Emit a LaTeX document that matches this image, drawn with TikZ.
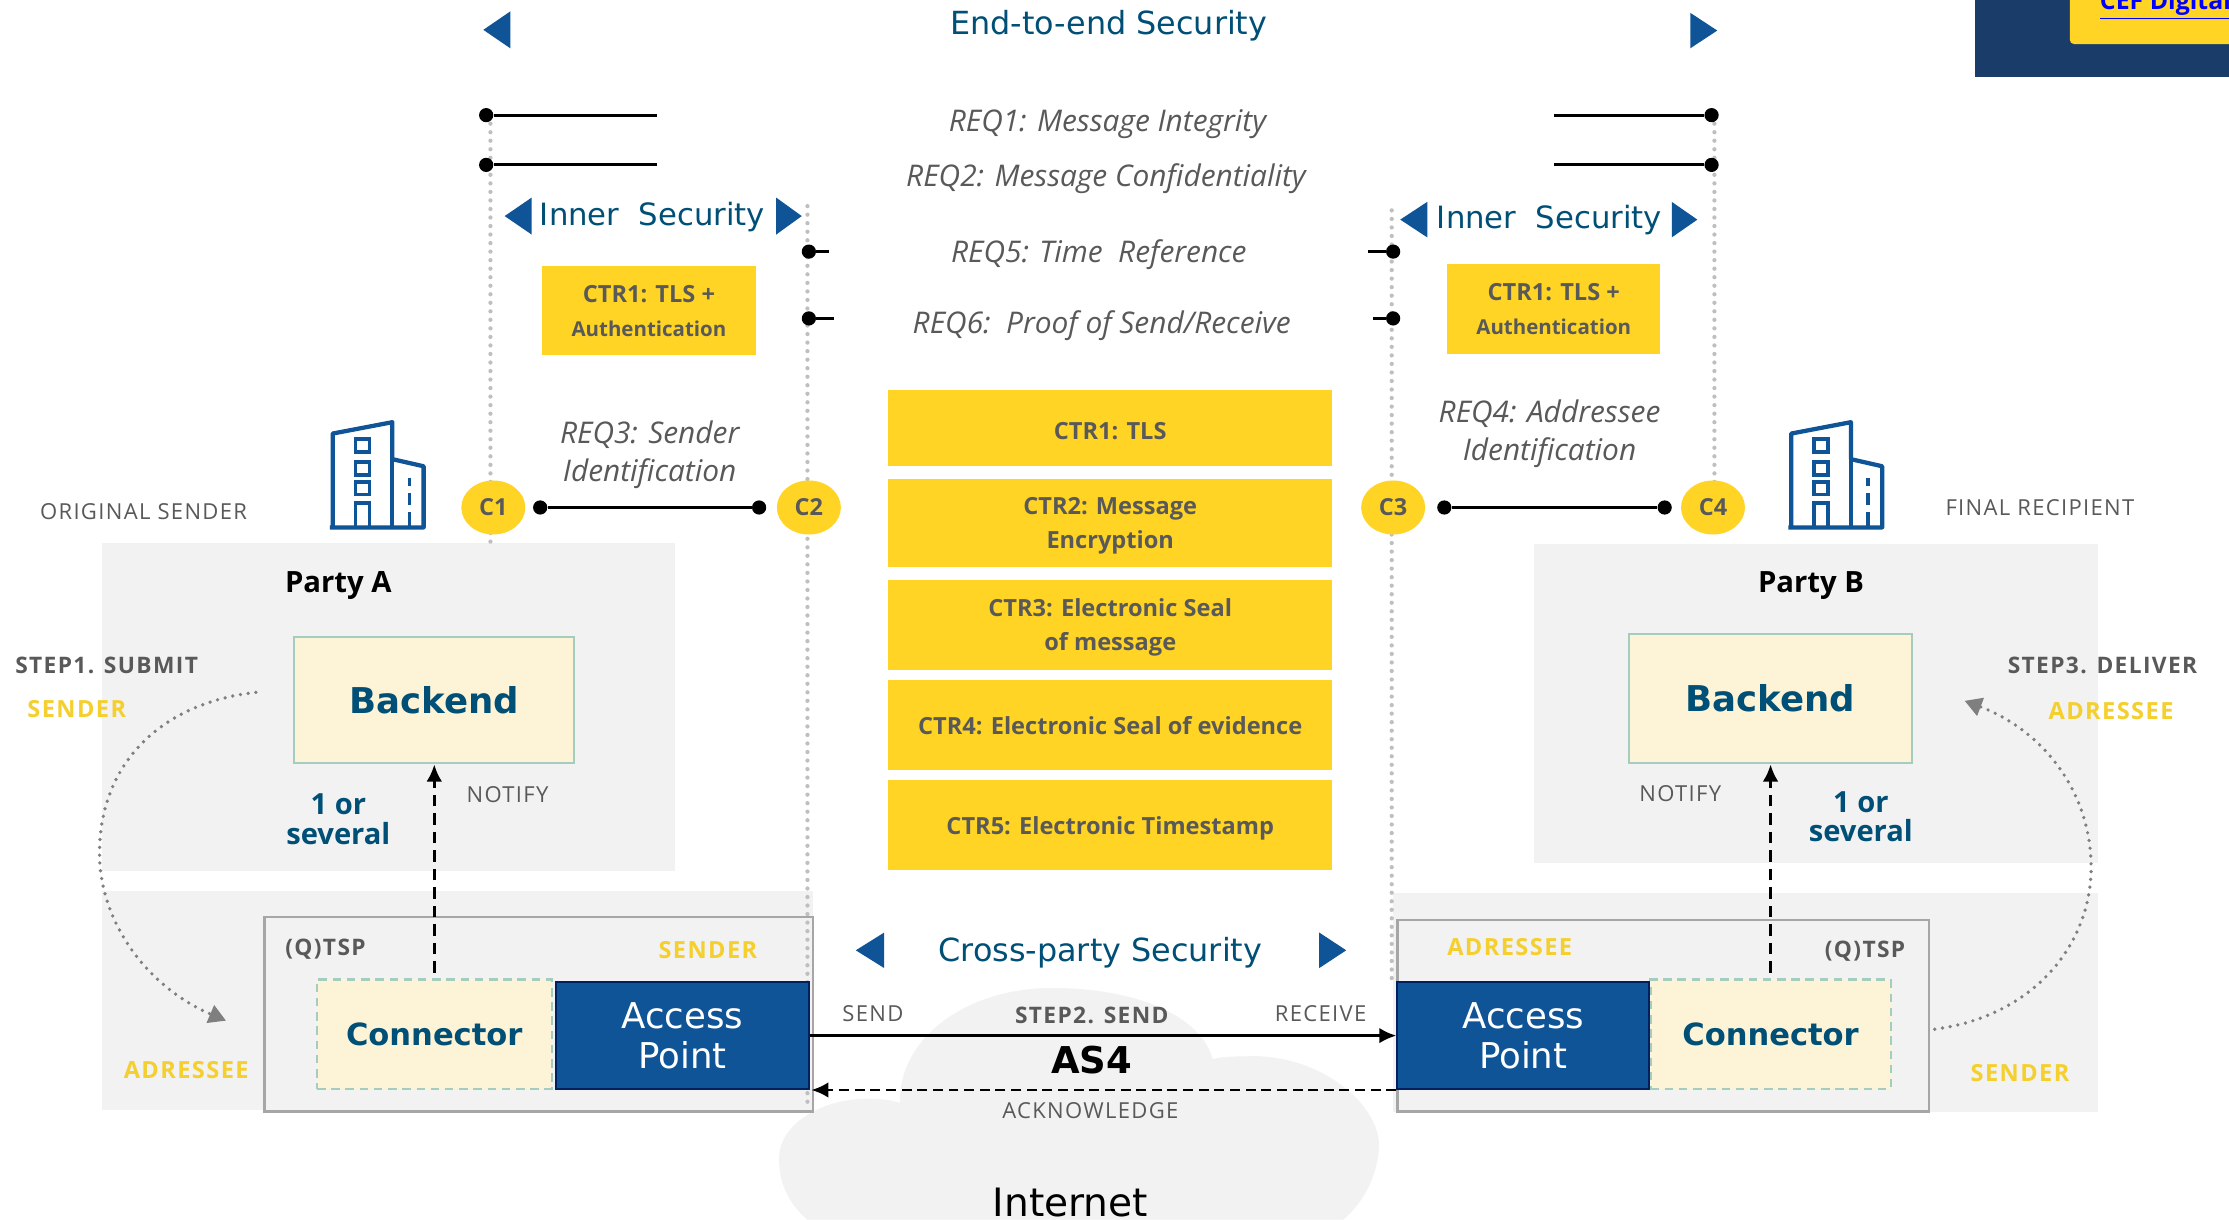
\documentclass[tikz,border=0pt]{standalone}
\usepackage{fontspec}
\setmainfont{Open Sans}
\newfontfamily\verdfont{DejaVu Sans}
\newfontfamily\spacedfont[LetterSpace=6]{Open Sans}
\usetikzlibrary{arrows.meta,shapes.geometric}
\definecolor{panelgray}{HTML}{F2F2F2}
\definecolor{framegray}{HTML}{A6A6A6}
\definecolor{dotgray}{HTML}{BFBFBF}
\definecolor{curvegray}{HTML}{7F7F7F}
\definecolor{textgray}{HTML}{595959}
\definecolor{seayellow}{HTML}{FFD424}
\definecolor{lblyellow}{HTML}{F4CF2E}
\definecolor{deepteal}{HTML}{004F76}
\definecolor{apblue}{HTML}{0F5496}
\definecolor{apedge}{HTML}{002060}
\definecolor{cream}{HTML}{FDF3D6}
\definecolor{mintedge}{HTML}{A5CDBF}
\definecolor{navy}{HTML}{1A3C68}
\newcommand{\smallauth}{\fontsize{14.4}{24}\selectfont Authentication}
\tikzset{
	panel/.style={fill=panelgray, draw=none, inner sep=0},
	ctrbox/.style={fill=seayellow, inner sep=0, align=center, text=textgray, text depth=0pt, font=\fontsize{16.6}{24}\selectfont\bfseries},
	cream box/.style={fill=cream, draw=mintedge, line width=1.5, inner sep=0, text=deepteal, align=center},
	apbox/.style={fill=apblue, draw=apedge, line width=1.5, inner sep=0, text=white, align=center, text depth=0pt, font=\verdfont\fontsize{25}{28}\selectfont},
	cnode/.style={ellipse, fill=seayellow, minimum width=45, minimum height=38, inner sep=0, text=textgray, font=\fontsize{16.5}{17}\selectfont\bfseries},
	pin/.style={circle, fill=black, minimum size=10, inner sep=0},
	req/.style={text=textgray, align=center, font=\fontsize{21}{26.5}\selectfont\itshape},
	graylbl/.style={text=textgray, font=\spacedfont\fontsize{15.5}{17}\selectfont},
	boldgray/.style={text=textgray, font=\spacedfont\fontsize{16}{17}\selectfont\bfseries},
	yellbl/.style={text=lblyellow, font=\spacedfont\fontsize{16.6}{17}\selectfont\bfseries},
	secttl/.style={text=deepteal, font=\verdfont\fontsize{22.4}{26}\selectfont},
	innerttl/.style={text=deepteal, font=\verdfont\fontsize{21.6}{26}\selectfont},
	countlbl/.style={text=deepteal, align=center, font=\fontsize{20.5}{21}\selectfont\bfseries},
	dotline/.style={dotgray, line width=3, line cap=round, dash pattern=on 0pt off 6pt},
	dotcurve/.style={curvegray, line width=2.6, line cap=round, dash pattern=on 0pt off 5.5pt},
	longdash/.style={dash pattern=on 8pt off 5pt},
	building/.pic={
		\draw[apblue, line width=3, line join=round] (0,75) -- (66,75) -- (66,32) -- (44,27) -- (44,1) -- (2,9) -- (2,75);
		\draw[apblue, line width=3] (44,27) -- (44,75);
		\foreach \yy in {13,29,43} {
			\draw[apblue, line width=2.5] (18,\yy) rectangle (28,\yy+9);
		}
		\draw[apblue, line width=2.5] (18,75) -- (18,58) -- (28,58) -- (28,75);
		\draw[apblue, line width=2.5] (56,40) -- (56,46) (56,51) -- (56,59) (56,64) -- (56,75);
	},
}
\begin{document}
\begin{tikzpicture}[x=1pt, y=-1pt]
	\useasboundingbox (0,0) rectangle (1568,858);
	\fill[white] (0,0) rectangle (1568,858);
	% cloud behind the middle
	\fill[panelgray] (568,858) .. controls (553,845) and (548,830) .. (548,815)
		.. controls (548,790) and (580,772) .. (612,773) .. controls (620,773) and (628,774) .. (633,776)
		.. controls (632,730) and (680,695) .. (740,695) .. controls (800,695) and (845,715) .. (853,745)
		.. controls (860,743) and (875,743) .. (885,743) .. controls (935,745) and (970,780) .. (970,805)
		.. controls (970,825) and (960,845) .. (945,858) -- cycle;
	% corner banner
	\fill[navy] (1389,0) rectangle (1568,54);
	\fill[seayellow, rounded corners=3] (1456,-10) rectangle (1580,31);
	\begin{scope}
		\clip (1456,0) rectangle (1568,31);
		\node[anchor=base west, inner sep=0, text=blue, font=\fontsize{17.5}{18}\selectfont\bfseries] (banner) at (1477,7) {\underline{CEF Digital}};
	\end{scope}
	% panels
	\node[panel, minimum width=403, minimum height=231] (partyA) at (273.5,497.5) {};
	\node[panel, minimum width=397, minimum height=224] (partyB) at (1277.5,495) {};
	\node[panel, minimum width=500, minimum height=154] (lowA) at (322,704) {};
	\node[panel, minimum width=496, minimum height=154] (lowB) at (1228,705) {};
	% dotted verticals
	\coordinate (vA1) at (345,81);
	\coordinate (vA2) at (345,382);
	\coordinate (vB1) at (568,145);
	\coordinate (vB2) at (568,780);
	\coordinate (vC1) at (979,148);
	\coordinate (vC2) at (979,690);
	\coordinate (vD1) at (1206,81);
	\coordinate (vD2) at (1206,350);
	\draw[dotline] (vA1) -- (vA2);
	\draw[dotline] (vB1) -- (vB2);
	\draw[dotline] (vC1) -- (vC2);
	\draw[dotline] (vD1) -- (vD2);
	% titles and triangles
	\foreach \xa/\xb/\ya/\yb in {359/340/8/34, 374/355/139/165, 1004/985/142/167, 622/602/656/681} {
		\fill[apblue] (\xa,\ya) -- (\xb,{(\ya+\yb)/2}) -- (\xa,\yb) -- cycle;
	}
	\foreach \xa/\xb/\ya/\yb in {1189/1208/9/34, 546/564/139/165, 1176/1194/142/167, 928/947/656/681} {
		\fill[apblue] (\xa,\ya) -- (\xb,{(\ya+\yb)/2}) -- (\xa,\yb) -- cycle;
	}
	\node[secttl] (endtoend) at (780,18) {End-to-end Security};
	\node[innerttl] (innerA) at (459,153) {Inner\ \ Security};
	\node[innerttl] (innerB) at (1090,155) {Inner\ \ Security};
	\node[secttl] (crossparty) at (774,670) {Cross-party Security};
	% requirements
	\node[req] (reqA) at (779,87) {REQ1: Message Integrity};
	\node[req] (reqB) at (778,126) {REQ2: Message Confidentiality};
	\node[req] (reqE) at (773,179) {REQ5: Time\ \ Reference};
	\node[req] (reqF) at (775,229) {REQ6:\ \ Proof of Send/Receive};
	\node[req] (reqC) at (457,320) {REQ3: Sender\\Identification};
	\node[req] (reqD) at (1090,305) {REQ4: Addressee\\Identification};
	% pins and their stubs
	\node[pin] (pinA) at (342,81) {};
	\node[pin] (pinB) at (342,116) {};
	\node[pin] (pinC) at (1204,81) {};
	\node[pin] (pinD) at (1204,116) {};
	\node[pin] (pinE) at (569,177) {};
	\node[pin] (pinF) at (569,224) {};
	\node[pin] (pinG) at (980,177) {};
	\node[pin] (pinH) at (980,224) {};
	\coordinate (stubA) at (462,81);
	\coordinate (stubB) at (462,116);
	\coordinate (stubC) at (1093,81);
	\coordinate (stubD) at (1093,116);
	\coordinate (stubE) at (583,177);
	\coordinate (stubF) at (587,224);
	\coordinate (stubG) at (962,177);
	\coordinate (stubH) at (966,224);
	\foreach \p/\s in {pinA/stubA, pinB/stubB, pinC/stubC, pinD/stubD, pinE/stubE, pinF/stubF, pinG/stubG, pinH/stubH} {
		\draw[line width=2] (\p) -- (\s);
	}
	% controls
	\node[ctrbox, minimum width=151, minimum height=63] (innerctrA) at (456.5,218.5) {CTR1: TLS +\\\smallauth};
	\node[ctrbox, minimum width=150, minimum height=63] (innerctrB) at (1093,217.5) {CTR1: TLS +\\\smallauth};
	\node[ctrbox, text height=17pt, minimum width=312, minimum height=54] (ctrA) at (781,301) {CTR1: TLS};
	\node[ctrbox, minimum width=312, minimum height=62] (ctrB) at (781,368) {CTR2: Message\\Encryption};
	\node[ctrbox, minimum width=312, minimum height=63] (ctrC) at (781,439.5) {CTR3: Electronic Seal\\of message};
	\node[ctrbox, minimum width=312, minimum height=64] (ctrD) at (781,510) {CTR4: Electronic Seal of evidence};
	\node[ctrbox, minimum width=312, minimum height=63] (ctrE) at (781,580.5) {CTR5: Electronic Timestamp};
	% parties
	\pic at (232,296) {building};
	\pic at (1258,296) {building};
	\node[graylbl] (origsender) at (101,360) {ORIGINAL SENDER};
	\node[graylbl] (finalrecip) at (1435,357) {FINAL RECIPIENT};
	\node[cnode] (cA) at (347,357) {C1};
	\node[cnode] (cB) at (569,357) {C2};
	\node[cnode] (cC) at (980,357) {C3};
	\node[cnode] (cD) at (1205,357) {C4};
	\node[pin] (pinI) at (380,357) {};
	\node[pin] (pinJ) at (534,357) {};
	\node[pin] (pinK) at (1016,357) {};
	\node[pin] (pinL) at (1171,357) {};
	\draw[line width=2] (pinI) -- (pinJ);
	\draw[line width=2] (pinK) -- (pinL);
	\node[font=\fontsize{20.6}{22}\selectfont\bfseries] (nameA) at (238,412) {Party A};
	\node[font=\fontsize{20.6}{22}\selectfont\bfseries] (nameB) at (1274,412) {Party B};
	\node[cream box, minimum width=197, minimum height=89, font=\verdfont\fontsize{25}{28}\selectfont\bfseries] (backendA) at (305.5,492.5) {Backend};
	\node[cream box, minimum width=199, minimum height=91, font=\verdfont\fontsize{25}{28}\selectfont\bfseries] (backendB) at (1245.5,491.5) {Backend};
	\node[countlbl] (countA) at (238,576.5) {1 or\\several};
	\node[countlbl] (countB) at (1309,574.5) {1 or\\several};
	\node[graylbl] (notifyA) at (357,559) {NOTIFY};
	\node[graylbl] (notifyB) at (1182,558) {NOTIFY};
	\node[boldgray] (stepA) at (75,468) {STEP1. SUBMIT};
	\node[yellbl] (senderA) at (54,499) {SENDER};
	\node[boldgray] (stepC) at (1479,468) {STEP3. DELIVER};
	\node[yellbl] (adrB) at (1485,500) {ADRESSEE};
	% provider frames
	\draw[framegray, line width=1.7] (186,645) rectangle (572,782);
	\draw[framegray, line width=1.7] (983,647) rectangle (1357,782);
	\node[boldgray] (tspA) at (229,668) {(Q)TSP};
	\node[boldgray] (tspB) at (1312,669) {(Q)TSP};
	\node[yellbl] (senderB) at (498,668) {SENDER};
	\node[yellbl] (adrC) at (1062,666) {ADRESSEE};
	\node[yellbl] (adrA) at (131,753) {ADRESSEE};
	\node[yellbl] (senderC) at (1421,755) {SENDER};
	\node[cream box, dash pattern=on 6pt off 4pt, minimum width=165, minimum height=77, font=\verdfont\fontsize{21.5}{25}\selectfont\bfseries] (connA) at (305.5,727.5) {Connector};
	\node[cream box, dash pattern=on 6pt off 4pt, minimum width=169, minimum height=77, font=\verdfont\fontsize{21.5}{25}\selectfont\bfseries] (connB) at (1245.5,727.5) {Connector};
	\node[apbox, minimum width=178, minimum height=75] (apA) at (480,728.5) {Access\\Point};
	\node[apbox, minimum width=177, minimum height=75] (apB) at (1071.5,728.5) {Access\\Point};
	% flows
	\draw[-{Latex[length=12,width=11]}, longdash, line width=2, shorten <=4] (connA) -- (backendA);
	\draw[-{Latex[length=12,width=11]}, longdash, line width=2, shorten <=4] (connB) -- (backendB);
	\draw[-{Latex[length=12,width=11]}, line width=2] (apA) -- (apB);
	\draw[-{Latex[length=12,width=11]}, dash pattern=on 7pt off 4pt, line width=2, shorten >=1, yshift=1] (apB.south west) -- (apA.south east);
	\coordinate (curveA) at (180,487);
	\coordinate (curveB) at (159,718);
	\coordinate (curveC) at (1361,724);
	\coordinate (curveD) at (1382,493);
	\draw[dotcurve, -{Triangle[length=12,width=13,curvegray]}] (curveA) .. controls (110,495) and (70,540) .. (70,600) .. controls (70,650) and (105,695) .. (curveB);
	\draw[dotcurve, -{Triangle[length=12,width=13,curvegray]}] (curveC) .. controls (1430,715) and (1471,665) .. (1471,610) .. controls (1471,560) and (1440,515) .. (curveD);
	\node[graylbl] (sendlbl) at (614,713) {SEND};
	\node[boldgray] (step2) at (768,714) {STEP2. SEND};
	\node[graylbl] (recvlbl) at (929,713) {RECEIVE};
	\node[font=\verdfont\fontsize{26}{30}\selectfont\bfseries] (asfour) at (768,746) {AS4};
	\node[graylbl] (acklbl) at (767,781) {ACKNOWLEDGE};
	\node[anchor=base, inner sep=0, font=\verdfont\fontsize{27.5}{30}\selectfont] (internet) at (753,856) {Internet};
\end{tikzpicture}
\end{document}
